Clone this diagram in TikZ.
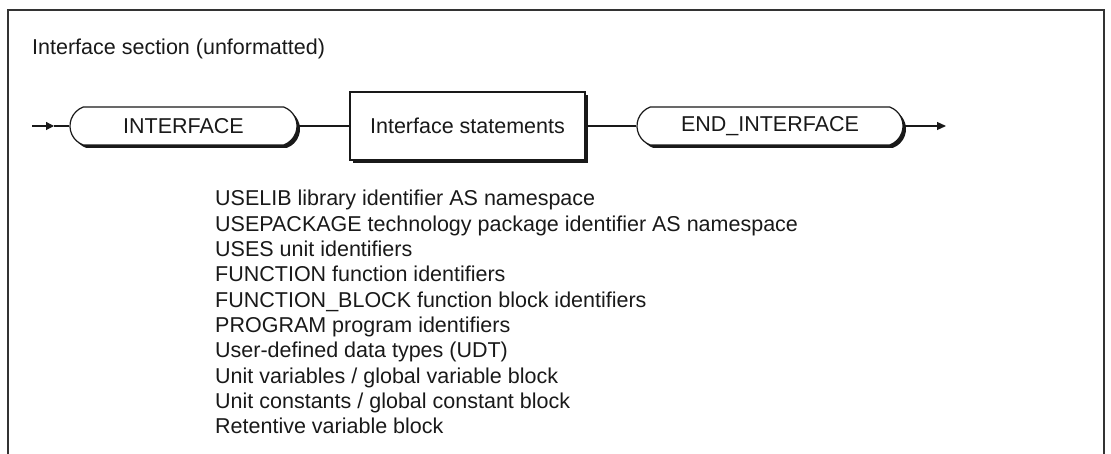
\documentclass[tikz,border=0pt]{standalone}
\usepackage{fontspec}
\setmainfont{Liberation Sans}
\usetikzlibrary{shapes.misc,shadows,arrows.meta}
\begin{document}
\begin{tikzpicture}[x=1pt,y=1pt,
  every node/.style={font=\fontsize{21.5}{25.3}\selectfont, text=black!90},
  conn/.style={line width=1.2pt, draw=black!90},
  shad/.style={general shadow={shadow xshift=3pt, shadow yshift=-3pt, fill=black!90, opacity=1}},
  terminal/.style={rounded rectangle, rounded rectangle arc length=140, draw=black!90, line width=1.2pt,
    fill=white, minimum height=38pt, inner xsep=0pt, shad},
  nonterm/.style={rectangle, draw=black!90, line width=1.2pt, fill=white, minimum width=235pt,
    minimum height=68pt, shad},
  listline/.style={anchor=base west, inner sep=0pt},
  frame/.style={line width=1.6pt, draw=black!80}]
\useasboundingbox (0,0) rectangle (1111,-454);
\coordinate (f1) at (8,-454);
\coordinate (f2) at (8,-10);
\coordinate (f3) at (1104,-10);
\coordinate (f4) at (1104,-454);
\draw[frame] (f1) -- (f2) -- (f3) -- (f4);
\node[anchor=base west, inner sep=0pt] (title) at (32,-55) {Interface section (unformatted)};
\coordinate (in) at (32,-126);
\coordinate (inm) at (54,-126);
\node[terminal, minimum width=227pt] (t1) at (183.5,-126) {INTERFACE};
\node[nonterm] (box) at (467.5,-126) {Interface statements};
\node[terminal, minimum width=266pt] (t2) at (770,-126) {END\_INTERFACE};
\coordinate (out) at (946,-126);
\draw[conn, -{Triangle[length=8pt,width=8pt]}] (in) -- (inm);
\draw[conn] (inm) -- (t1.west);
\draw[conn] (t1.east) -- (box.west);
\draw[conn] (box.east) -- (t2.west);
\draw[conn, -{Triangle[length=9pt,width=8pt]}] (t2.east) -- (out);
\foreach \t [count=\i from 0] in {
  USELIB library identifier AS namespace,
  USEPACKAGE technology package identifier AS namespace,
  USES unit identifiers,
  FUNCTION function identifiers,
  FUNCTION\_BLOCK function block identifiers,
  PROGRAM program identifiers,
  User-defined data types (UDT),
  Unit variables / global variable block,
  Unit constants / global constant block,
  Retentive variable block}
  \node[listline] (l\i) at (215,-206-25.3*\i) {\t};
\end{tikzpicture}
\end{document}
